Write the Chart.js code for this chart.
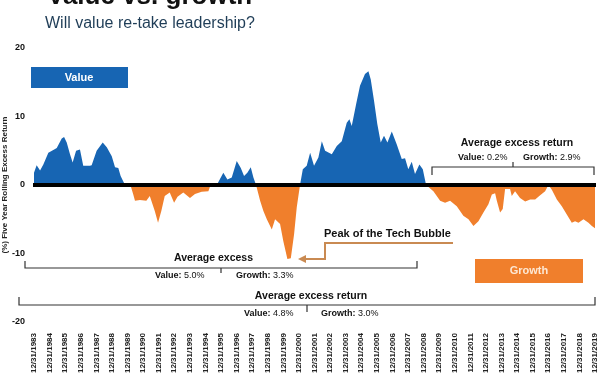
<!DOCTYPE html>
<html lang="en">
<head>
<meta charset="UTF-8">
<title>Value vs. growth</title>
<script src="https://cdn.jsdelivr.net/npm/chart.js"></script>
<style>
  html, body { margin: 0; padding: 0; background: #fff; }
  #wrap { position: relative; width: 600px; height: 376px; }
</style>
</head>
<body>
<div id="wrap"><canvas id="grafico"></canvas></div>
<script>
// x = year (whole number = 12/31 of that year), y = five year rolling excess return of value over growth (%)
const dates = [
  1983.00, 1983.17, 1983.39, 1983.60, 1983.92, 1984.24, 1984.46, 1984.78, 1984.93, 1985.10,
  1985.31, 1985.48, 1985.70, 1985.95, 1986.16, 1986.59, 1986.70, 1987.02, 1987.41, 1987.67,
  1987.99, 1988.20, 1988.41, 1988.56, 1988.84, 1989.16, 1989.37, 1989.48, 1989.80, 1990.21,
  1990.43, 1990.75, 1990.96, 1991.17, 1991.39, 1991.71, 1991.99, 1992.21, 1992.58, 1993.01,
  1993.33, 1993.76, 1994.19, 1994.33, 1994.47, 1994.73, 1995.15, 1995.41, 1995.69, 1996.01,
  1996.27, 1996.48, 1996.69, 1996.91, 1997.08, 1997.25, 1997.51, 1997.72, 1997.94, 1998.26,
  1998.47, 1998.79, 1999.00, 1999.26, 1999.48, 1999.69, 1999.86, 2000.07, 2000.25, 2000.50,
  2000.72, 2000.97, 2001.25, 2001.47, 2001.68, 2002.11, 2002.43, 2002.75, 2003.07, 2003.24,
  2003.39, 2003.67, 2003.92, 2004.24, 2004.46, 2004.61, 2004.82, 2005.03, 2005.25, 2005.46,
  2005.68, 2005.96, 2006.28, 2006.60, 2006.81, 2007.02, 2007.24, 2007.45, 2007.73, 2007.95,
  2008.16, 2008.63, 2009.06, 2009.38, 2009.70, 2010.13, 2010.55, 2010.88, 2011.20, 2011.52,
  2011.84, 2012.16, 2012.38, 2012.59, 2012.70, 2012.91, 2013.08, 2013.23, 2013.55, 2013.66,
  2013.87, 2014.19, 2014.52, 2014.84, 2015.16, 2015.48, 2015.80, 2016.01, 2016.23, 2016.55,
  2016.87, 2017.19, 2017.51, 2017.72, 2017.94, 2018.26, 2018.58, 2018.80, 2019.00
];
const excess = [
   1.8,  2.9,  2.1,  3.0,  4.7,  5.1,  5.4,  6.8,  7.0,  6.2,
   4.5,  3.3,  5.0,  5.2,  2.8,  2.8,  2.9,  5.0,  6.2,  5.5,
   4.2,  2.6,  2.5,  1.3,  0.0,  0.2, -1.4, -2.3, -2.2, -2.3,
  -1.6, -3.8, -5.5, -3.8, -1.6, -1.1, -2.6, -1.7, -1.1, -1.9,
  -1.3, -1.0, -0.9,  0.0,  0.3,  0.0,  1.8,  0.8,  1.1,  3.5,
   2.5,  1.3,  1.8,  2.6,  1.1,  0.0, -2.3, -3.8, -5.0, -6.5,
  -5.0, -5.7, -8.2,-10.8,-10.7, -7.2, -3.3,  0.0,  2.3,  2.8,
   4.7,  2.8,  4.0,  6.4,  5.0,  4.5,  5.7,  6.4,  9.1,  9.6,
   8.6, 11.8, 14.5, 16.2, 16.6, 15.4, 12.3,  8.9,  6.2,  7.2,
   6.2,  7.8,  5.9,  3.8,  3.9,  2.3,  3.4,  1.6,  3.0,  2.3,
   0.0, -0.9, -2.3, -2.6, -2.3, -3.1, -4.5, -5.0, -6.0, -5.3,
  -4.0, -2.8, -1.4, -1.2, -2.3, -4.0, -3.5, -0.6, -0.6, -1.6,
  -0.9, -1.9, -2.4, -2.1, -2.1, -1.5, -0.9,  0.0, -0.7, -2.1,
  -3.1, -4.3, -5.5, -5.3, -5.5, -5.0, -5.5, -6.0, -6.3
];
const yearTicks = [
  1983, 1984, 1985, 1986, 1987, 1988, 1989, 1990, 1991, 1992, 1993, 1994, 1995,
  1996, 1997, 1998, 1999, 2000, 2001, 2002, 2003, 2004, 2005, 2006, 2007, 2008,
  2009, 2010, 2011, 2012, 2013, 2014, 2015, 2016, 2017, 2018, 2019
];
const yTicks = [-20, -10, 0, 10, 20];

const AZUL = '#1765b3';
const LARANJA = '#f07f2c';
const FONTE = '"Liberation Sans", Arial, sans-serif';

// texto "Rotulo: valor" com a parte do rotulo em negrito
function rotulo(ctx, x, y, label, valor) {
  ctx.font = 'bold 9px ' + FONTE;
  ctx.fillText(label, x, y);
  const w = ctx.measureText(label).width;
  ctx.font = '9px ' + FONTE;
  ctx.fillText(valor, x + w, y);
}

// colchete: linha horizontal, pontas para cima/baixo (dy) e marca no meio (mdy)
function colchete(ctx, xl, xr, y, dy, mx, mdy) {
  ctx.beginPath();
  ctx.moveTo(xl, y + dy);
  ctx.lineTo(xl, y);
  ctx.lineTo(xr, y);
  ctx.lineTo(xr, y + dy);
  ctx.moveTo(mx, y);
  ctx.lineTo(mx, y + mdy);
  ctx.stroke();
}

const notas = {
  id: 'notas',
  afterDatasetsDraw(chart) {
    // linha do zero, grossa e preta por cima das areas
    const { ctx, chartArea, scales: { y } } = chart;
    const y0 = y.getPixelForValue(0);
    ctx.save();
    ctx.strokeStyle = '#000';
    ctx.lineWidth = 4;
    ctx.beginPath();
    ctx.moveTo(chartArea.left - 1, y0);
    ctx.lineTo(chartArea.right + 1, y0);
    ctx.stroke();
    ctx.restore();
  },
  afterDraw(chart) {
    const ctx = chart.ctx;
    ctx.save();

    // titulo (cortado no topo) e subtitulo
    ctx.fillStyle = '#111';
    ctx.font = 'bold 26px ' + FONTE;
    ctx.textBaseline = 'alphabetic';
    ctx.fillText('Value vs. growth', 47, 4);
    ctx.fillStyle = '#1f3d57';
    ctx.font = '16px ' + FONTE;
    ctx.fillText('Will value re-take leadership?', 45, 28);

    // caixas Value / Growth
    ctx.fillStyle = AZUL;
    ctx.fillRect(31, 67, 97, 21);
    ctx.fillStyle = LARANJA;
    ctx.fillRect(475, 259, 108, 24);
    ctx.textAlign = 'center';
    ctx.textBaseline = 'middle';
    ctx.font = 'bold 11px ' + FONTE;
    ctx.fillStyle = '#fff';
    ctx.fillText('Value', 79, 78);
    ctx.fillStyle = '#fde8d4';
    ctx.fillText('Growth', 529, 271);

    // colchetes
    ctx.strokeStyle = '#333';
    ctx.lineWidth = 1.2;
    colchete(ctx, 432, 594, 167, 8, 513, -5);
    colchete(ctx, 25, 417, 268, -7, 221, 5);
    colchete(ctx, 19, 595, 305, -8, 307, 7);

    ctx.fillStyle = '#111';
    ctx.font = 'bold 10.5px ' + FONTE;
    ctx.fillText('Average excess return', 517, 143);
    ctx.fillText('Average excess return', 311, 296);
    ctx.textAlign = 'left';
    ctx.fillText('Average excess', 174, 258);

    rotulo(ctx, 458, 158, 'Value: ', '0.2%');
    rotulo(ctx, 523, 158, 'Growth: ', '2.9%');
    rotulo(ctx, 155, 276, 'Value: ', '5.0%');
    rotulo(ctx, 236, 276, 'Growth: ', '3.3%');
    rotulo(ctx, 244, 314, 'Value: ', '4.8%');
    rotulo(ctx, 321, 314, 'Growth: ', '3.0%');

    // seta do pico da bolha
    ctx.font = 'bold 11px ' + FONTE;
    ctx.fillText('Peak of the Tech Bubble', 324, 234);
    ctx.strokeStyle = '#c98a52';
    ctx.lineWidth = 2;
    ctx.beginPath();
    ctx.moveTo(453, 243);
    ctx.lineTo(325, 243);
    ctx.lineTo(325, 259);
    ctx.lineTo(304, 259);
    ctx.stroke();
    ctx.fillStyle = '#c98a52';
    ctx.beginPath();
    ctx.moveTo(298, 259);
    ctx.lineTo(306, 255);
    ctx.lineTo(306, 263);
    ctx.closePath();
    ctx.fill();

    ctx.restore();
  }
};

const ctx = document.getElementById('grafico').getContext('2d');
const grafico = new Chart(ctx, {
  type: 'line',
  data: {
    datasets: [{
      label: 'Excess return',
      data: dates.map((d, i) => ({ x: d, y: excess[i] })),
      borderWidth: 0,
      borderColor: 'rgba(0,0,0,0)',
      pointRadius: 0,
      tension: 0,
      fill: { target: 'origin', above: AZUL, below: LARANJA }
    }]
  },
  options: {
    responsive: true,
    maintainAspectRatio: false,
    animation: false,
    layout: { padding: { top: 48, right: 5, left: 0, bottom: 0 } },
    plugins: { legend: { display: false }, tooltip: { enabled: false } },
    scales: {
      x: {
        type: 'linear',
        min: 1983,
        max: 2019,
        afterBuildTicks: s => { s.ticks = yearTicks.map(v => ({ value: v })); },
        afterFit: s => { s.height = 54; s.paddingLeft = 0; s.paddingRight = 0; },
        grid: { display: false, drawTicks: false },
        border: { display: false },
        ticks: {
          autoSkip: false,
          minRotation: 90,
          maxRotation: 90,
          padding: 11,
          color: '#222',
          font: { family: FONTE, size: 8, weight: 'bold' },
          callback: v => '12/31/' + v
        }
      },
      y: {
        min: -20,
        max: 20,
        afterBuildTicks: s => { s.ticks = yTicks.map(v => ({ value: v })); },
        afterFit: s => { s.width = 34; },
        grid: { display: false, drawTicks: false },
        border: { display: false },
        title: {
          display: true,
          text: '(%) Five Year Rolling Excess Return',
          color: '#222',
          font: { family: FONTE, size: 8, weight: 'bold' },
          padding: { top: 0, bottom: 0 }
        },
        ticks: {
          padding: 9,
          color: '#111',
          font: { family: FONTE, size: 9, weight: 'bold' }
        }
      }
    }
  },
  plugins: [notas]
});
</script>
</body>
</html>
